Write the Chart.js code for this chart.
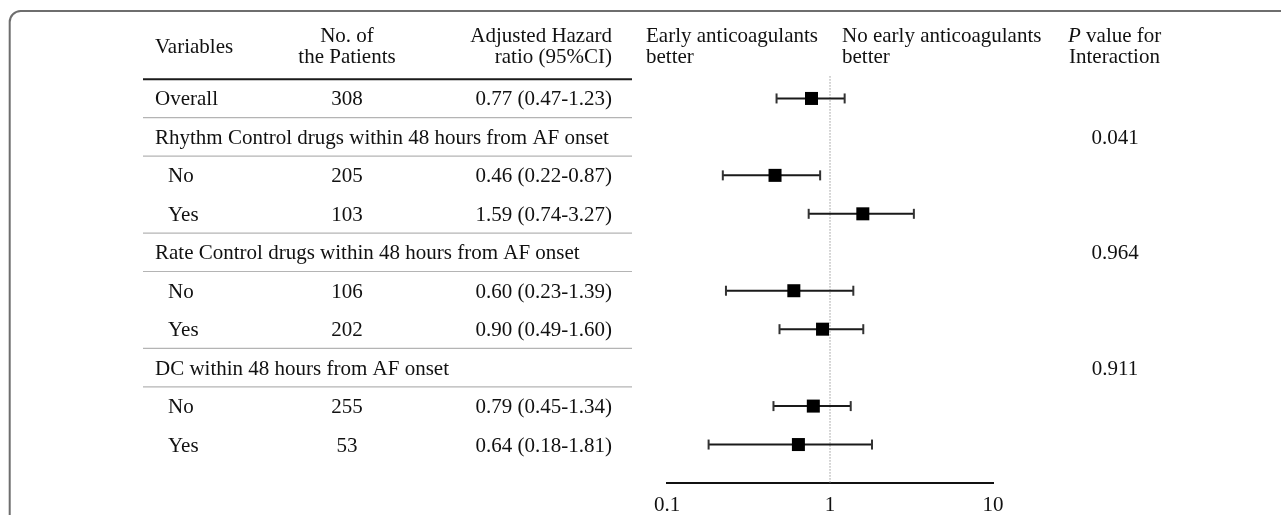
<!DOCTYPE html>
<html>
<head>
<meta charset="utf-8">
<script src="https://cdn.jsdelivr.net/npm/chart.js@4.4.1/dist/chart.umd.min.js"></script>
<style>
  html, body { margin: 0; padding: 0; background: #fff; overflow: hidden; }
  #wrap { width: 1281px; height: 515px; position: relative; }
</style>
</head>
<body>
<div id="wrap"><canvas id="forestCanvas" width="1281" height="515"></canvas></div>
<script>
// rows of the table, top to bottom (group rows have no estimate)
const rowLabels = ["Overall",
  "Rhythm Control drugs within 48 hours from AF onset", "No", "Yes",
  "Rate Control drugs within 48 hours from AF onset", "No", "Yes",
  "DC within 48 hours from AF onset", "No", "Yes"];
const isGroup = [false, true, false, false, true, false, false, true, false, false];
const patients = [308, null, 205, 103, null, 106, 202, null, 255, 53];
const hazardRatio = [0.77, null, 0.46, 1.59, null, 0.60, 0.90, null, 0.79, 0.64];
const ciLower = [0.47, null, 0.22, 0.74, null, 0.23, 0.49, null, 0.45, 0.18];
const ciUpper = [1.23, null, 0.87, 3.27, null, 1.39, 1.60, null, 1.34, 1.81];
const pInteraction = [null, "0.041", null, null, "0.964", null, null, "0.911", null, null];
const xTicks = [0.1, 1, 10];

const FONT = "'Liberation Serif', 'Times New Roman', serif";
Chart.defaults.font.family = FONT;
Chart.defaults.font.size = 21;
Chart.defaults.color = "#111";

// build datasets from the arrays
const squares = [], caps = [], ciLine = [];
hazardRatio.forEach((v, i) => {
  if (v === null) return;
  squares.push({ x: v, y: i });
  caps.push({ x: ciLower[i], y: i }, { x: ciUpper[i], y: i });
  ciLine.push({ x: ciLower[i], y: i }, { x: ciUpper[i], y: i }, { x: 1, y: null });
});

const fmt = v => v.toFixed(2);

const tablePlugin = {
  id: "forestTable",
  beforeDraw(chart) {
    const ctx = chart.ctx;
    ctx.save();
    ctx.strokeStyle = "#6e6e6e";
    ctx.lineWidth = 2;
    ctx.beginPath();
    ctx.roundRect(9.7, 11, 1500, 700, 11);
    ctx.stroke();
    ctx.restore();
  },
  afterDraw(chart) {
    const ctx = chart.ctx;
    const ys = chart.scales.y;
    const xLabel = 155, xIndent = 168, xN = 347, xHR = 612, xP = 1115;
    const lineL = 143, lineR = 632;
    ctx.save();
    ctx.fillStyle = "#111";
    ctx.font = "21px " + FONT;
    ctx.textBaseline = "alphabetic";

    // header
    ctx.textAlign = "left";
    ctx.fillText("Variables", xLabel, 53);
    ctx.textAlign = "center";
    ctx.fillText("No. of", xN, 42);
    ctx.fillText("the Patients", xN, 63);
    ctx.textAlign = "right";
    ctx.fillText("Adjusted Hazard", xHR, 42);
    ctx.fillText("ratio (95%CI)", xHR, 63);
    ctx.textAlign = "left";
    ctx.fillText("Early anticoagulants", 646, 42);
    ctx.fillText("better", 646, 63);
    ctx.fillText("No early anticoagulants", 842, 42);
    ctx.fillText("better", 842, 63);
    ctx.font = "italic 21px " + FONT;
    ctx.fillText("P", 1068, 42);
    const pw = ctx.measureText("P").width;
    ctx.font = "21px " + FONT;
    ctx.fillText(" value for", 1068 + pw, 42);
    ctx.fillText("Interaction", 1069, 63);

    // rows
    rowLabels.forEach((lab, i) => {
      const base = ys.getPixelForValue(i) + 7;
      ctx.textAlign = "left";
      ctx.fillText(lab, isGroup[i] ? xLabel : (i === 0 ? xLabel : xIndent), base);
      if (patients[i] !== null) {
        ctx.textAlign = "center";
        ctx.fillText(String(patients[i]), xN, base);
        ctx.textAlign = "right";
        ctx.fillText(fmt(hazardRatio[i]) + " (" + fmt(ciLower[i]) + "-" + fmt(ciUpper[i]) + ")", xHR, base);
      }
      if (pInteraction[i] !== null) {
        ctx.textAlign = "center";
        ctx.fillText(pInteraction[i], xP, base);
      }
    });

    // rules
    ctx.strokeStyle = "#1a1a1a";
    ctx.lineWidth = 2;
    ctx.beginPath();
    const hy = ys.getPixelForValue(-0.5);
    ctx.moveTo(lineL, hy); ctx.lineTo(lineR, hy);
    ctx.stroke();
    ctx.strokeStyle = "#b4b4b4";
    ctx.lineWidth = 1.2;
    [0.5, 1.5, 3.5, 4.5, 6.5, 7.5].forEach(v => {
      const py = ys.getPixelForValue(v);
      ctx.beginPath();
      ctx.moveTo(lineL, py); ctx.lineTo(lineR, py);
      ctx.stroke();
    });
    ctx.restore();
  }
};

new Chart(document.getElementById("forestCanvas"), {
  type: "scatter",
  data: {
    datasets: [
      {
        label: "HR",
        data: squares,
        pointStyle: "rect",
        pointRadius: 9.2,
        backgroundColor: "#000",
        borderWidth: 0
      },
      {
        label: "caps",
        data: caps,
        pointStyle: "line",
        rotation: 90,
        pointRadius: 5,
        borderColor: "#333",
        borderWidth: 2
      },
      {
        label: "CI",
        data: ciLine,
        showLine: true,
        spanGaps: false,
        pointRadius: 0,
        borderColor: "#1a1a1a",
        borderWidth: 2
      },
      {
        label: "ref",
        data: [{ x: 1, y: -0.58 }, { x: 1, y: 10 }],
        showLine: true,
        pointRadius: 0,
        borderColor: "#9a9a9a",
        borderWidth: 1,
        borderDash: [1.5, 1.5]
      }
    ]
  },
  options: {
    responsive: false,
    animation: false,
    events: [],
    clip: false,
    layout: { padding: { left: 667, right: 288, top: 60, bottom: -13 } },
    plugins: { legend: { display: false }, tooltip: { enabled: false } },
    scales: {
      x: {
        type: "logarithmic",
        min: 0.1,
        max: 10,
        afterBuildTicks: scale => { scale.ticks = xTicks.map(v => ({ value: v })); },
        ticks: {
          padding: 12,
          font: { size: 21, lineHeight: 1 },
          color: "#111",
          callback: v => String(v)
        },
        grid: { display: false, drawTicks: false },
        border: { display: true, color: "#111", width: 2 }
      },
      y: {
        type: "linear",
        display: false,
        reverse: true,
        min: -1,
        max: 10
      }
    }
  },
  plugins: [tablePlugin]
});
</script>
</body>
</html>
